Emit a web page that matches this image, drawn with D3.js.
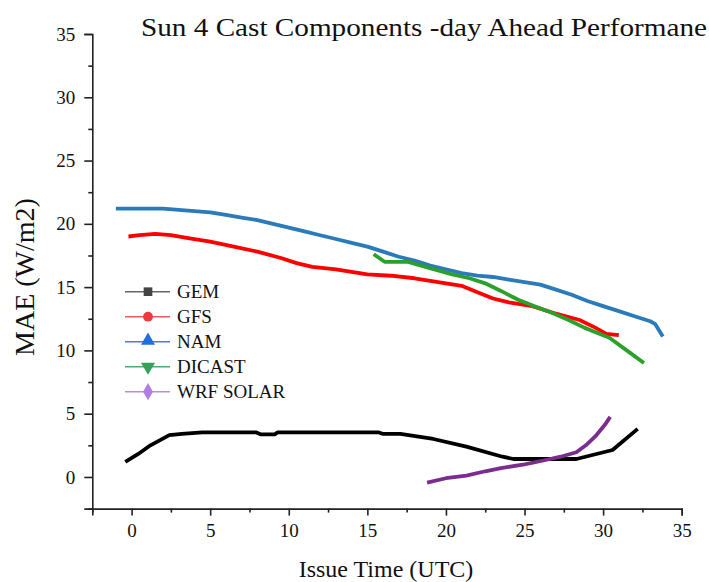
<!DOCTYPE html>
<html>
<head>
<meta charset="utf-8">
<script src="https://cdn.jsdelivr.net/npm/d3@7"></script>
<style>
  html, body { margin: 0; padding: 0; background: #fff; }
  svg text { font-family: "Liberation Serif", "Times New Roman", serif; fill: #111; }
</style>
</head>
<body>
<svg id="chart" width="709" height="582"></svg>
<script>
// ---- Data ----
const seriesNames = ["GEM", "GFS", "NAM", "DICAST", "WRF SOLAR"];

const gemX = [-0.4, 0.4, 1.2, 2.4, 3.2, 4.5, 7.9, 8.2, 9.1, 9.3, 15.7, 16.0, 17.1, 19.2, 21.3, 23.6, 24.3, 28.3, 30.6, 32.2];
const gemY = [1.2, 1.8, 2.5, 3.3, 3.4, 3.53, 3.53, 3.37, 3.37, 3.53, 3.53, 3.4, 3.4, 3.0, 2.4, 1.6, 1.42, 1.42, 2.13, 3.8];

const gfsX = [-0.2, 0.5, 1.5, 2.5, 3.5, 5, 6.5, 8, 9.5, 10.5, 11.5, 13, 14, 15, 16.5, 18, 19.5, 21, 22, 23, 24, 25.5, 27, 28.5, 29.5, 30.2, 31.0];
const gfsY = [19.0, 19.1, 19.2, 19.1, 18.9, 18.6, 18.2, 17.8, 17.3, 16.9, 16.6, 16.4, 16.2, 16.0, 15.9, 15.7, 15.4, 15.1, 14.6, 14.1, 13.8, 13.5, 12.9, 12.4, 11.8, 11.3, 11.2];

const namX = [-1.0, 0, 1, 2, 3, 4, 5, 6, 7, 8, 9, 10, 11, 12, 13, 14, 15, 16, 17, 18, 19, 20, 21, 22, 23, 24, 25, 26, 27, 28, 29, 30, 31, 32, 33, 33.3, 33.8];
const namY = [21.2, 21.2, 21.2, 21.2, 21.1, 21.0, 20.9, 20.7, 20.5, 20.3, 20.0, 19.7, 19.4, 19.1, 18.8, 18.5, 18.2, 17.8, 17.4, 17.1, 16.7, 16.4, 16.1, 15.9, 15.8, 15.6, 15.4, 15.2, 14.8, 14.4, 13.9, 13.5, 13.1, 12.7, 12.3, 12.1, 11.1];

const dicastX = [15.4, 16.1, 17.6, 18.7, 20.4, 21.5, 22.5, 23.5, 24.6, 25.6, 26.7, 27.8, 28.8, 29.6, 30.4, 31.5, 32.6];
const dicastY = [17.6, 17.0, 17.0, 16.6, 16.0, 15.7, 15.3, 14.7, 14.0, 13.5, 13.0, 12.4, 11.8, 11.4, 11.0, 10.0, 9.0];

const wrfX = [18.8, 20.0, 21.3, 22.5, 23.5, 25.0, 26.2, 27.3, 28.3, 28.9, 29.5, 30.1, 30.45];
const wrfY = [-0.45, -0.1, 0.1, 0.45, 0.7, 1.0, 1.3, 1.6, 1.95, 2.5, 3.2, 4.1, 4.75];

const xTicks = [0, 5, 10, 15, 20, 25, 30, 35];
const yTicks = [0, 5, 10, 15, 20, 25, 30, 35];

const titleText = "Sun 4 Cast Components -day Ahead Performane";
const xTitle = "Issue Time (UTC)";
const yTitle = "MAE (W/m2)";

// ---- Styling ----
const lineColors = ["#000000", "#ff0000", "#2b7bba", "#2ca02c", "#7b2d8e"];
const legendColors = ["#444444", "#ee3a3a", "#2070dc", "#35a05a", "#b27ce2"];
const legendLineColors = ["#666666", "#f05a5a", "#3a82e0", "#4aae6a", "#bb8ce6"];
const markerTypes = [d3.symbolSquare, d3.symbolCircle, d3.symbolTriangle, d3.symbolTriangle, d3.symbolDiamond];

const svg = d3.select("#chart");

const x = d3.scaleLinear().domain([-2.5, 35]).range([92.3, 681.7]);
const y = d3.scaleLinear().domain([-2.5, 35]).range([508.6, 34]);

// Axes
const minorX = d3.range(-2.5, 35.01, 2.5).filter(v => !xTicks.includes(v));
const minorY = d3.range(-2.5, 35.01, 2.5).filter(v => !yTicks.includes(v));

const axisColor = "#222";

const gx = svg.append("g").attr("transform", `translate(0,${y(-2.5)})`);
gx.call(d3.axisBottom(x).tickValues(xTicks).tickSize(7).tickPadding(8).tickFormat(d3.format("d")));
const gxm = gx.append("g").call(d3.axisBottom(x).tickValues(minorX).tickSize(4).tickFormat(""));
gxm.select(".domain").remove();
gx.selectAll(".domain").attr("stroke", axisColor).attr("stroke-width", 1.6);
gx.selectAll(".tick line").attr("stroke", axisColor).attr("stroke-width", 1.6);
gx.selectAll("text").attr("font-size", 19).attr("font-family", "Liberation Serif").attr("fill", "#222");

const gy = svg.append("g").attr("transform", `translate(${x(-2.5)},0)`);
gy.call(d3.axisLeft(y).tickValues(yTicks).tickSize(8).tickPadding(9).tickFormat(d3.format("d")));
const gym = gy.append("g").call(d3.axisLeft(y).tickValues(minorY).tickSize(4).tickFormat(""));
gym.select(".domain").remove();
gy.selectAll(".domain").attr("stroke", axisColor).attr("stroke-width", 1.6);
gy.selectAll(".tick line").attr("stroke", axisColor).attr("stroke-width", 1.6);
gy.selectAll("text").attr("font-size", 19).attr("font-family", "Liberation Serif").attr("fill", "#222");

// Lines
const seriesX = [gemX, gfsX, namX, dicastX, wrfX];
const seriesY = [gemY, gfsY, namY, dicastY, wrfY];
const line = d3.line().x(d => x(d[0])).y(d => y(d[1]));
const drawOrder = [2, 1, 3, 0, 4];
drawOrder.forEach(i => {
  const pts = seriesX[i].map((v, k) => [v, seriesY[i][k]]);
  svg.append("path")
    .datum(pts)
    .attr("d", line)
    .attr("fill", "none")
    .attr("stroke", lineColors[i])
    .attr("stroke-width", 3.8)
    .attr("stroke-linejoin", "round")
    .attr("stroke-linecap", "butt");
});

// Legend
const lg = svg.append("g");
const legendY0 = 291.7, legendStep = 25;
seriesNames.forEach((name, i) => {
  const yy = legendY0 + i * legendStep;
  lg.append("line").attr("x1", 125).attr("x2", 170).attr("y1", yy).attr("y2", yy)
    .attr("stroke", legendLineColors[i]).attr("stroke-width", 1.6);
  const sizes = [75, 75, 85, 85, 85];
  const sym = d3.symbol().type(markerTypes[i]).size(sizes[i]);
  lg.append("path").attr("d", sym())
    .attr("transform", `translate(148,${yy + (i === 2 ? -1 : 0)}) rotate(${i === 3 ? 180 : 0})`)
    .attr("fill", legendColors[i]);
  lg.append("text").attr("x", 177).attr("y", yy).attr("dy", "0.35em")
    .attr("font-size", 19).text(name);
});

// Titles
svg.append("text").attr("x", 141).attr("y", 36)
  .attr("font-size", 26).attr("textLength", 566).attr("lengthAdjust", "spacingAndGlyphs")
  .text(titleText);

svg.append("text").attr("x", 386).attr("y", 577).attr("text-anchor", "middle")
  .attr("font-size", 24).text(xTitle);

svg.append("text").attr("transform", `translate(34,277) rotate(-90)`).attr("text-anchor", "middle")
  .attr("font-size", 28).text(yTitle);
</script>
</body>
</html>
